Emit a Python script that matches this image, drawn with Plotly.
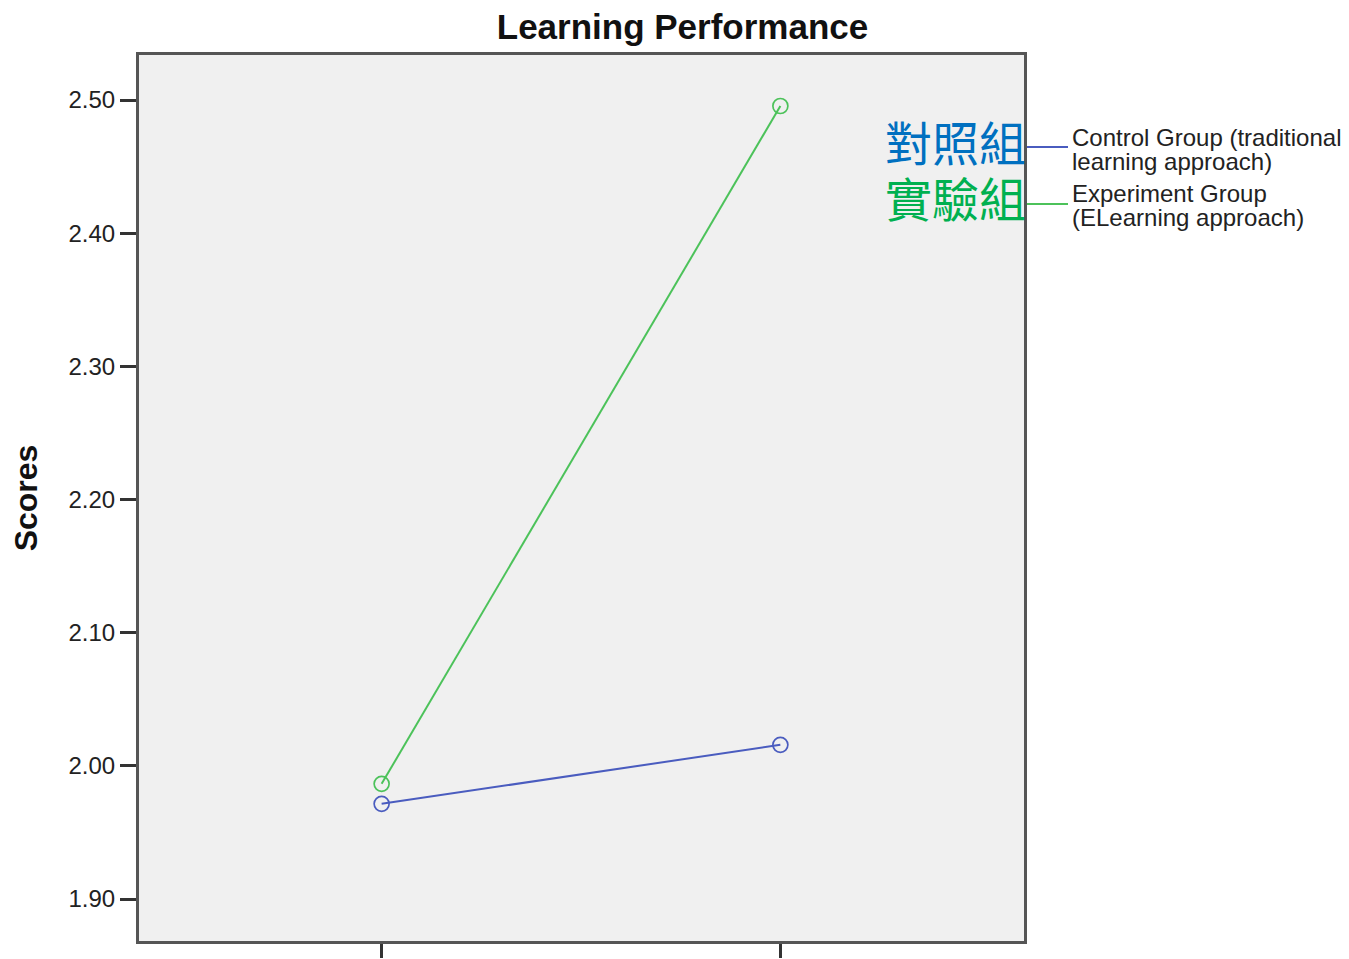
import plotly.graph_objects as go

x_pos = [0, 1]
control_scores = [1.9715, 2.0158]
experiment_scores = [1.9865, 2.4955]
control_name_lines = ["Control Group (traditional", "learning approach)"]
experiment_name_lines = ["Experiment Group", "(ELearning approach)"]
control_label_zh = "對照組"
experiment_label_zh = "實驗組"
y_ticks = [1.90, 2.00, 2.10, 2.20, 2.30, 2.40, 2.50]
y_tick_labels = ["1.90", "2.00", "2.10", "2.20", "2.30", "2.40", "2.50"]

BLUE = "#4a5cbf"
GREEN = "#4cc25a"

fig = go.Figure()
fig.add_trace(go.Scatter(x=x_pos, y=control_scores, mode="lines+markers", showlegend=False,
                         line=dict(color=BLUE, width=2),
                         marker=dict(symbol="circle-open", size=15, color=BLUE, line=dict(width=1.7))))
fig.add_trace(go.Scatter(x=x_pos, y=experiment_scores, mode="lines+markers", showlegend=False,
                         line=dict(color=GREEN, width=2),
                         marker=dict(symbol="circle-open", size=15, color=GREEN, line=dict(width=1.7))))

fig.update_layout(
    width=1349, height=959,
    margin=dict(l=123, r=333, t=47, b=26),
    paper_bgcolor="white",
    plot_bgcolor="#f0f0f0",
    font=dict(family="Liberation Sans, Arial, sans-serif", color="#222", size=24),
    title=dict(text="<b>Learning Performance</b>", x=0.5, xanchor="center", xref="container",
               y=0.980, yanchor="middle", yref="container",
               font=dict(size=35, color="#111")),
    showlegend=False,
    xaxis=dict(range=[-0.6085, 1.611], tickvals=x_pos, showticklabels=False,
               ticks="outside", ticklen=14, tickwidth=3, tickcolor="#333",
               showgrid=False, zeroline=False, showline=True, linewidth=3,
               linecolor="#555", mirror=True),
    yaxis=dict(range=[1.8685, 2.5338], tickvals=y_ticks, ticktext=y_tick_labels,
               ticks="outside", ticklen=16, tickwidth=3, tickcolor="#333",
               tickfont=dict(size=24, color="#222"),
               showgrid=False, zeroline=False, showline=True, linewidth=3,
               linecolor="#555", mirror=True,
               title=dict(text="<b>Scores</b>", font=dict(size=32, color="#111"), standoff=26)),
)


def py(px):
    # convert reference pixel row to data value on the y axis (2.50 at 100, 0.10 per 133.2px)
    return 2.50 - (px - 100) / 1332.0


# Chinese group labels
fig.add_annotation(text=control_label_zh, xref="paper", yref="y", x=1.0, y=py(140), xshift=4,
                   xanchor="right", yanchor="middle", showarrow=False,
                   font=dict(family="Noto Sans CJK TC", size=47, color="#0070c0"))
fig.add_annotation(text=experiment_label_zh, xref="paper", yref="y", x=1.0, y=py(197), xshift=4,
                   xanchor="right", yanchor="middle", showarrow=False,
                   font=dict(family="Noto Sans CJK TC", size=47, color="#00b050"))

# legend (line swatch + two-line text)
for color, lines, ly, ty in [(BLUE, control_name_lines, 147, (137, 161)),
                             (GREEN, experiment_name_lines, 204, (194, 218))]:
    fig.add_shape(type="line", xref="paper", yref="y", xsizemode="pixel", xanchor=1.0,
                  x0=3, x1=44, y0=py(ly), y1=py(ly), line=dict(color=color, width=2))
    for txt, tyy in zip(lines, ty):
        fig.add_annotation(text=txt, xref="paper", yref="y", x=1.0, y=py(tyy), xshift=46,
                           xanchor="left", yanchor="middle", showarrow=False,
                           font=dict(size=24, color="#222"))

fig.write_html("out.html")
